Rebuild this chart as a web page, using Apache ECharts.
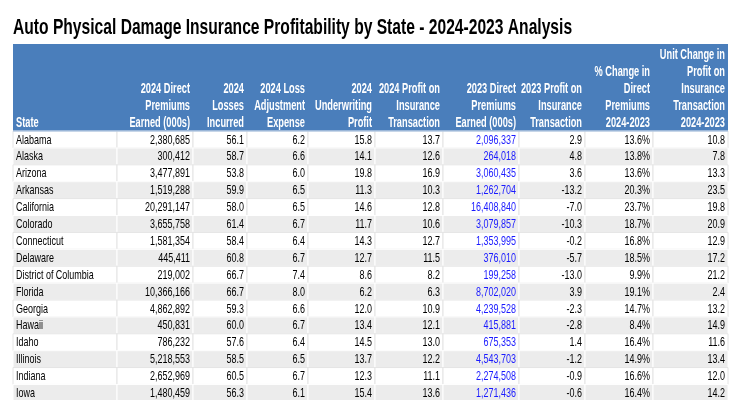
<!DOCTYPE html>
<html>
<head>
<meta charset="utf-8">
<script src="https://cdn.jsdelivr.net/npm/echarts@6/dist/echarts.min.js"></script>
<style>
  html, body { margin: 0; padding: 0; background: #fff; }
  #main { width: 740px; height: 400px; }
</style>
</head>
<body>
<div id="main"></div>
<script>
// table data
var states = ['Alabama', 'Alaska', 'Arizona', 'Arkansas', 'California', 'Colorado', 'Connecticut', 'Delaware',
  'District of Columbia', 'Florida', 'Georgia', 'Hawaii', 'Idaho', 'Illinois', 'Indiana', 'Iowa'];
var premiums2024 = [2380685, 300412, 3477891, 1519288, 20291147, 3655758, 1581354, 445411,
  219002, 10366166, 4862892, 450831, 786232, 5218553, 2652969, 1480459];
var losses2024 = [56.1, 58.7, 53.8, 59.9, 58.0, 61.4, 58.4, 60.8, 66.7, 66.7, 59.3, 60.0, 57.6, 58.5, 60.5, 56.3];
var lae2024 = [6.2, 6.6, 6.0, 6.5, 6.5, 6.7, 6.4, 6.7, 7.4, 8.0, 6.6, 6.7, 6.4, 6.5, 6.7, 6.1];
var uwProfit2024 = [15.8, 14.1, 19.8, 11.3, 14.6, 11.7, 14.3, 12.7, 8.6, 6.2, 12.0, 13.4, 14.5, 13.7, 12.3, 15.4];
var pit2024 = [13.7, 12.6, 16.9, 10.3, 12.8, 10.6, 12.7, 11.5, 8.2, 6.3, 10.9, 12.1, 13.0, 12.2, 11.1, 13.6];
var premiums2023 = [2096337, 264018, 3060435, 1262704, 16408840, 3079857, 1353995, 376010,
  199258, 8702020, 4239528, 415881, 675353, 4543703, 2274508, 1271436];
var pit2023 = [2.9, 4.8, 3.6, -13.2, -7.0, -10.3, -0.2, -5.7, -13.0, 3.9, -2.3, -2.8, 1.4, -1.2, -0.9, -0.6];
var pctChange = [13.6, 13.8, 13.6, 20.3, 23.7, 18.7, 16.8, 18.5, 9.9, 19.1, 14.7, 8.4, 16.4, 14.9, 16.6, 16.4];
var unitChange = [10.8, 7.8, 13.3, 23.5, 19.8, 20.9, 12.9, 17.2, 21.2, 2.4, 13.2, 14.9, 11.6, 13.4, 12.0, 14.2];

var titleText = 'Auto Physical Damage Insurance Profitability by State - 2024-2023 Analysis';
var headers = [
  ['State'],
  ['2024 Direct', 'Premiums', 'Earned (000s)'],
  ['2024', 'Losses', 'Incurred'],
  ['2024 Loss', 'Adjustment', 'Expense'],
  ['2024', 'Underwriting', 'Profit'],
  ['2024 Profit on', 'Insurance', 'Transaction'],
  ['2023 Direct', 'Premiums', 'Earned (000s)'],
  ['2023 Profit on', 'Insurance', 'Transaction'],
  ['% Change in', 'Direct', 'Premiums', '2024-2023'],
  ['Unit Change in', 'Profit on', 'Insurance', 'Transaction', '2024-2023']
];

// layout: column edges on the x scale (0..740), header height in row units
var colEdges = [13, 117, 193, 247, 308, 375, 443, 519, 585, 653, 728];
var headerRows = 5.15;
var FONT = '"Liberation Sans", Arial, sans-serif';
var NARROW = 0.69; // squeeze to look like a condensed face

function int(v) { return v.toLocaleString('en-US'); }
function dec(v) { return v.toFixed(1); }
function pct(v) { return v.toFixed(1) + '%'; }

var columns = [
  states.slice(),
  premiums2024.map(int),
  losses2024.map(dec),
  lae2024.map(dec),
  uwProfit2024.map(dec),
  pit2024.map(dec),
  premiums2023.map(int),
  pit2023.map(dec),
  pctChange.map(pct),
  unitChange.map(dec)
];

var cellData = [];
for (var r = 0; r < states.length; r++) {
  for (var c = 0; c < columns.length; c++) {
    cellData.push({ value: [c, r], text: columns[c][r] });
  }
}
var headData = headers.map(function (h, c) { return { value: [c, 0], text: h.join('\n') }; });

var myChart = echarts.init(document.getElementById('main'));
option = {
  backgroundColor: '#fff',
  animation: false,
  graphic: [{
    type: 'text',
    x: 13,
    y: 28,
    scaleX: 0.71,
    style: { text: titleText, font: 'bold 22px ' + FONT, fill: '#000', verticalAlign: 'middle' }
  }],
  grid: { left: 0, right: 0, top: 44, bottom: 0 },
  xAxis: { type: 'value', min: 0, max: 740, show: false },
  yAxis: { type: 'value', min: -headerRows, max: 15.92, inverse: true, show: false },
  series: [
    {
      // header band
      type: 'custom',
      data: headData,
      renderItem: function (params, api) {
        var c = api.value(0);
        var tl = api.coord([colEdges[c], -headerRows]);
        var br = api.coord([colEdges[c + 1], 0]);
        var item = headData[params.dataIndex];
        return {
          type: 'group',
          children: [
            { type: 'rect', shape: { x: tl[0], y: tl[1], width: br[0] - tl[0], height: br[1] - tl[1] },
              style: { fill: '#4a7ebb' } },
            { type: 'text', x: c === 0 ? tl[0] + 3 : br[0] - 3, y: br[1] + 1, scaleX: 0.66,
              style: { text: item.text, fill: '#fff', font: 'bold 14px ' + FONT,
                align: c === 0 ? 'left' : 'right', verticalAlign: 'bottom', lineHeight: 17 } }
          ]
        };
      }
    },
    {
      // body cells
      type: 'custom',
      data: cellData,
      clip: true,
      renderItem: function (params, api) {
        var c = api.value(0), r = api.value(1);
        var tl = api.coord([colEdges[c], r]);
        var br = api.coord([colEdges[c + 1], r + 1]);
        var item = cellData[params.dataIndex];
        var odd = r % 2 === 1;
        return {
          type: 'group',
          children: [
            { type: 'rect', shape: { x: tl[0], y: tl[1], width: br[0] - tl[0], height: br[1] - tl[1] },
              style: { fill: odd ? '#ececec' : '#fff', stroke: odd ? '#fff' : '#e4e4e4', lineWidth: 1 } },
            { type: 'text', x: c === 0 ? tl[0] + 3 : br[0] - 3, y: (tl[1] + br[1]) / 2 + 0.5, scaleX: NARROW,
              style: { text: item.text, fill: c === 6 ? '#1a1aff' : '#000', font: '13px ' + FONT,
                align: c === 0 ? 'left' : 'right', verticalAlign: 'middle' } }
          ]
        };
      }
    },
    {
      // thin rule under the header
      type: 'custom',
      data: [[0, 0]],
      renderItem: function (params, api) {
        var a = api.coord([colEdges[0], 0]);
        var b = api.coord([colEdges[colEdges.length - 1], 0]);
        return { type: 'line', shape: { x1: a[0], y1: a[1], x2: b[0], y2: b[1] },
          style: { stroke: '#9dbbe0', lineWidth: 1 } };
      }
    }
  ]
};
myChart.setOption(option);
</script>
</body>
</html>
